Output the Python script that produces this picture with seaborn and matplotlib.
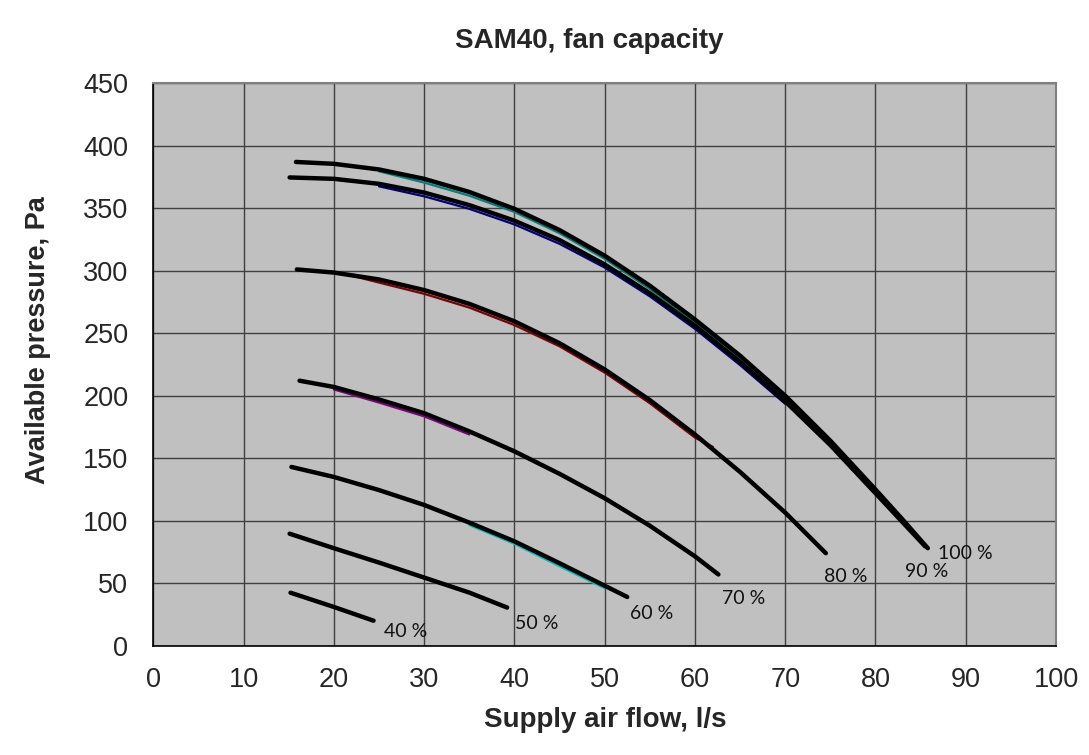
import matplotlib
matplotlib.use("Agg")
import matplotlib.pyplot as plt
import seaborn as sns
import pandas as pd

# ---- data ----
x100 = [15.8, 20, 25, 30, 35, 40, 45, 50, 55, 60, 65, 70, 75, 80, 83, 85.8]
y100 = [387, 385.5, 381, 373.5, 363, 349.5, 332.5, 312, 288, 261, 232, 200, 164, 125, 101, 78]
x90 = [15.1, 20, 25, 30, 35, 40, 45, 50, 55, 60, 65, 70, 75, 80, 85.5]
y90 = [374.6, 373.5, 369.5, 362.5, 352.5, 340, 324.5, 305, 282, 256, 227, 195.5, 160.5, 122, 79.5]
x80 = [15.9, 20, 25, 30, 35, 40, 45, 50, 55, 60, 65, 70, 74.5]
y80 = [301, 298.5, 293, 284.5, 273.5, 259.5, 242, 221, 196.5, 169, 139, 106.5, 74]
x70 = [16.2, 20, 25, 30, 35, 40, 45, 50, 55, 60, 62.6]
y70 = [212, 207, 197, 186, 171.5, 155.5, 137.5, 118, 96, 71.5, 57]
x60 = [15.3, 20, 25, 30, 35, 40, 45, 50, 52.5]
y60 = [143, 135, 124.5, 112.6, 98.5, 83.5, 66, 48, 39]
x50 = [15.1, 20, 25, 30, 35, 39.2]
y50 = [89.6, 78, 66.5, 54.5, 42.5, 30.5]
x40 = [15.2, 20, 24.4]
y40 = [42.4, 31, 20]

# thin coloured series partly hidden under the black curves
teal_x = [25, 30, 35, 40, 45, 50, 55, 60, 65, 70]
teal_y = [379.5, 370.5, 360, 347, 330, 309.5, 285.5, 258.5, 229.5, 198]
blue_x = [25, 30, 35, 40, 45, 50, 55, 60, 65, 70]
blue_y = [367.5, 359.5, 349.5, 337, 321.5, 302.5, 279.5, 253.5, 224.5, 193.5]
red_x = [22, 25, 30, 35, 40, 45, 50, 55, 60, 62]
red_y = [296, 290.5, 281.5, 270.5, 256.5, 239.5, 218.5, 194, 166.5, 159]
purple_x = [20, 25, 30, 35]
purple_y = [205, 194.5, 183.5, 169]
cyan_x = [35, 40, 45, 50]
cyan_y = [96.5, 81.5, 63.5, 46]

labels = ["40 %", "50 %", "60 %", "70 %", "80 %", "90 %", "100 %"]
label_x = [28.0, 42.5, 55.2, 65.4, 76.7, 85.7, 90.0]
label_y = [11.4, 17.6, 25.4, 38.0, 55.0, 59.0, 73.5]

title = "SAM40, fan capacity"
xlabel = "Supply air flow, l/s"
ylabel = "Available pressure, Pa"
xticks = list(range(0, 101, 10))
yticks = list(range(0, 451, 50))

# ---- figure ----
sns.set_style("white")
plt.rcParams["font.family"] = ["Liberation Sans", "DejaVu Sans"]

W, H = 1089, 755
fig = plt.figure(figsize=(W / 100, H / 100), dpi=100)
ax = fig.add_axes([153.3 / W, (H - 645.7) / H, (1056 - 153.3) / W, (645.7 - 83.2) / H])
ax.set_facecolor("#C0C0C0")

colored = [
    (teal_x, teal_y, "#008080"),
    (blue_x, blue_y, "#000080"),
    (red_x, red_y, "#800000"),
    (purple_x, purple_y, "#800080"),
    (cyan_x, cyan_y, "#00C0C0"),
]
for xs, ys, c in colored:
    df = pd.DataFrame({"x": xs, "y": ys})
    sns.lineplot(data=df, x="x", y="y", ax=ax, color=c, lw=1.6, sort=False,
                 estimator=None, zorder=3)

curves = [(x40, y40), (x50, y50), (x60, y60), (x70, y70), (x80, y80), (x90, y90), (x100, y100)]
for xs, ys in curves:
    df = pd.DataFrame({"x": xs, "y": ys})
    sns.lineplot(data=df, x="x", y="y", ax=ax, color="black", lw=3.2, sort=False,
                 estimator=None, zorder=4, solid_capstyle="round", solid_joinstyle="round")

for t, lx, ly in zip(labels, label_x, label_y):
    ax.text(lx, ly, t, ha="center", va="center", fontsize=14,
            family=["Lato", "DejaVu Sans"], color="#111111", zorder=5)

ax.set_xlim(0, 100)
ax.set_ylim(0, 450)
ax.set_xticks(xticks)
ax.set_yticks(yticks)
ax.set_xticklabels([str(v) for v in xticks], fontsize=19.5)
ax.set_yticklabels([str(v) for v in yticks], fontsize=19.5)
ax.grid(True, color="#404040", lw=1.0, zorder=1)
ax.set_axisbelow(True)
ax.tick_params(axis="x", direction="out", length=5.5, width=1, color="black", pad=10)
ax.tick_params(axis="y", direction="out", length=4.5, width=1, color="black", pad=13.5)
for side in ["left", "bottom"]:
    ax.spines[side].set_color("black")
    ax.spines[side].set_linewidth(1.2)
for side in ["top", "right"]:
    ax.spines[side].set_color("#808080")
    ax.spines[side].set_linewidth(1.5)
ax.set_xlabel("")
ax.set_ylabel("")

fig.text(589 / W, 1 - 47.5 / H, title, ha="center", va="baseline",
         fontsize=20, fontweight="bold")
fig.text(605 / W, 1 - 727 / H, xlabel, ha="center", va="baseline",
         fontsize=20, fontweight="bold")
fig.text(38.5 / W, 1 - 340 / H, ylabel, ha="center", va="center",
         fontsize=19.5, fontweight="bold", rotation=90)

fig.savefig("out.png", dpi=100)
